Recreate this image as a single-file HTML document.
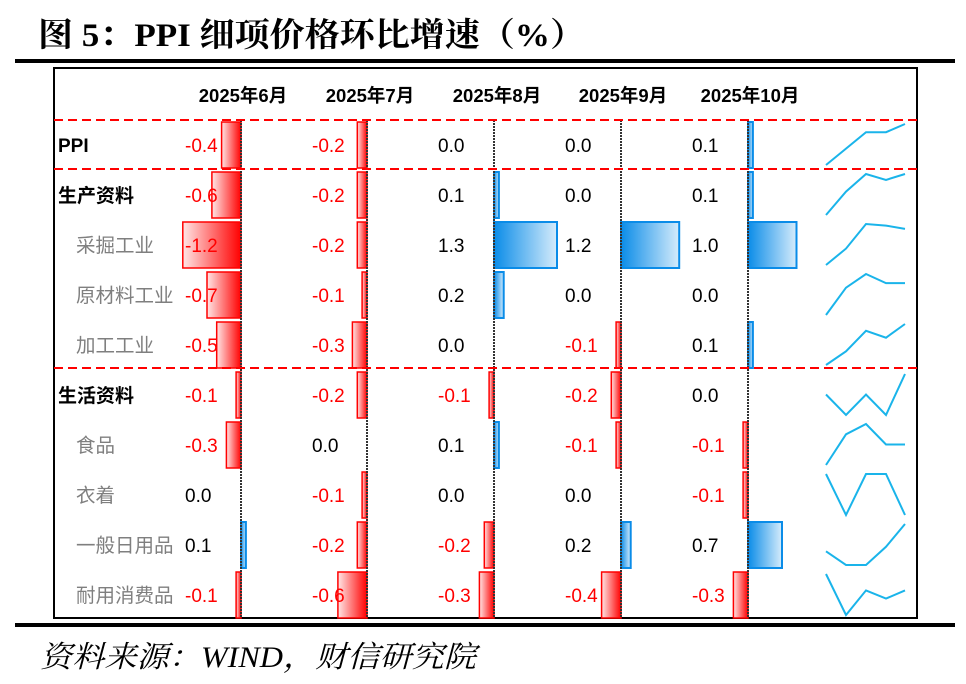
<!DOCTYPE html>
<html><head><meta charset="utf-8"><style>
body{margin:0;background:#fff;width:966px;height:684px;overflow:hidden}
svg{display:block}
.h{font:bold 18.5px "Liberation Sans","Noto Sans CJK SC",sans-serif;fill:#000}
.b{font:bold 19px "Liberation Sans","Noto Sans CJK SC",sans-serif;fill:#000}
.g{font:19.5px "Liberation Sans","Noto Sans CJK SC",sans-serif;fill:#7f7f7f}
.v{font:19px "Liberation Sans","Noto Sans CJK SC",sans-serif;fill:#000}
.n{font:19px "Liberation Sans","Noto Sans CJK SC",sans-serif;fill:#ff0000}
.r{fill:url(#rg);stroke:#ff0000;stroke-width:1.5}
.u{fill:url(#bg);stroke:#0a8ce8;stroke-width:2}
.s{fill:none;stroke:#1ab4ea;stroke-width:2}
</style></head><body>
<svg width="966" height="684" xmlns="http://www.w3.org/2000/svg">
<defs>
<linearGradient id="rg" x1="0" x2="1"><stop offset="0" stop-color="#ffe6e6"/><stop offset="1" stop-color="#ff0000"/></linearGradient>
<linearGradient id="bg" x1="0" x2="1"><stop offset="0" stop-color="#0a8ce8"/><stop offset="1" stop-color="#d6ecfb"/></linearGradient>
</defs>
<text x="38" y="46" textLength="547" lengthAdjust="spacingAndGlyphs" style="font:bold 33px 'Liberation Serif','Noto Serif CJK SC',serif">图 5：PPI 细项价格环比增速（%）</text>
<rect x="15" y="59" width="940" height="4" fill="#000"/>
<rect x="15" y="623" width="940" height="4" fill="#000"/>
<text x="40" y="667" textLength="436" lengthAdjust="spacingAndGlyphs" style="font:italic 30px 'Liberation Serif','Noto Serif CJK SC',serif">资料来源：WIND，财信研究院</text>
<rect x="54" y="68" width="863" height="550" fill="none" stroke="#000" stroke-width="2"/>
<g class="h">
<text x="243" y="102" text-anchor="middle">2025年6月</text>
<text x="370" y="102" text-anchor="middle">2025年7月</text>
<text x="497" y="102" text-anchor="middle">2025年8月</text>
<text x="623" y="102" text-anchor="middle">2025年9月</text>
<text x="750" y="102" text-anchor="middle">2025年10月</text>
</g>
<rect class="r" x="221.6" y="122" width="19.4" height="46"/><rect class="r" x="357.3" y="122" width="9.7" height="46"/><rect class="u" x="748" y="122" width="4.9" height="46"/>
<rect class="r" x="211.9" y="172" width="29.1" height="46"/><rect class="r" x="357.3" y="172" width="9.7" height="46"/><rect class="u" x="494" y="172" width="4.9" height="46"/><rect class="u" x="748" y="172" width="4.9" height="46"/>
<rect class="r" x="182.8" y="222" width="58.2" height="46"/><rect class="r" x="357.3" y="222" width="9.7" height="46"/><rect class="u" x="494" y="222" width="63" height="46"/><rect class="u" x="621" y="222" width="58.2" height="46"/><rect class="u" x="748" y="222" width="48.5" height="46"/>
<rect class="r" x="207" y="272" width="34" height="46"/><rect class="r" x="362.1" y="272" width="4.9" height="46"/><rect class="u" x="494" y="272" width="9.7" height="46"/>
<rect class="r" x="216.7" y="322" width="24.3" height="46"/><rect class="r" x="352.4" y="322" width="14.6" height="46"/><rect class="r" x="616.1" y="322" width="4.9" height="46"/><rect class="u" x="748" y="322" width="4.9" height="46"/>
<rect class="r" x="236.1" y="372" width="4.9" height="46"/><rect class="r" x="357.3" y="372" width="9.7" height="46"/><rect class="r" x="489.1" y="372" width="4.9" height="46"/><rect class="r" x="611.3" y="372" width="9.7" height="46"/>
<rect class="r" x="226.4" y="422" width="14.6" height="46"/><rect class="u" x="494" y="422" width="4.9" height="46"/><rect class="r" x="616.1" y="422" width="4.9" height="46"/><rect class="r" x="743.1" y="422" width="4.9" height="46"/>
<rect class="r" x="362.1" y="472" width="4.9" height="46"/><rect class="r" x="743.1" y="472" width="4.9" height="46"/>
<rect class="u" x="241" y="522" width="4.9" height="46"/><rect class="r" x="357.3" y="522" width="9.7" height="46"/><rect class="r" x="484.3" y="522" width="9.7" height="46"/><rect class="u" x="621" y="522" width="9.7" height="46"/><rect class="u" x="748" y="522" width="34" height="46"/>
<rect class="r" x="236.1" y="572" width="4.9" height="46"/><rect class="r" x="337.9" y="572" width="29.1" height="46"/><rect class="r" x="479.4" y="572" width="14.6" height="46"/><rect class="r" x="601.6" y="572" width="19.4" height="46"/><rect class="r" x="733.4" y="572" width="14.6" height="46"/>
<g stroke="#333" stroke-width="2" stroke-dasharray="2,1">
<line x1="241" y1="120" x2="241" y2="618"/><line x1="367" y1="120" x2="367" y2="618"/><line x1="494" y1="120" x2="494" y2="618"/><line x1="621" y1="120" x2="621" y2="618"/><line x1="748" y1="120" x2="748" y2="618"/>
</g>
<g stroke="#ff0000" stroke-width="2" stroke-dasharray="9,5">
<line x1="54" y1="120" x2="917" y2="120"/><line x1="54" y1="169" x2="917" y2="169"/><line x1="54" y1="368" x2="917" y2="368"/>
</g>
<text class="b" x="58" y="152">PPI</text>
<text class="b" x="58" y="202">生产资料</text>
<text class="g" x="76" y="252">采掘工业</text>
<text class="g" x="76" y="302">原材料工业</text>
<text class="g" x="76" y="352">加工工业</text>
<text class="b" x="58" y="402">生活资料</text>
<text class="g" x="76" y="452">食品</text>
<text class="g" x="76" y="502">衣着</text>
<text class="g" x="76" y="552">一般日用品</text>
<text class="g" x="76" y="602">耐用消费品</text>
<text class="n" x="185" y="152">-0.4</text><text class="n" x="312" y="152">-0.2</text><text class="v" x="438" y="152">0.0</text><text class="v" x="565" y="152">0.0</text><text class="v" x="692" y="152">0.1</text>
<text class="n" x="185" y="202">-0.6</text><text class="n" x="312" y="202">-0.2</text><text class="v" x="438" y="202">0.1</text><text class="v" x="565" y="202">0.0</text><text class="v" x="692" y="202">0.1</text>
<text class="n" x="185" y="252">-1.2</text><text class="n" x="312" y="252">-0.2</text><text class="v" x="438" y="252">1.3</text><text class="v" x="565" y="252">1.2</text><text class="v" x="692" y="252">1.0</text>
<text class="n" x="185" y="302">-0.7</text><text class="n" x="312" y="302">-0.1</text><text class="v" x="438" y="302">0.2</text><text class="v" x="565" y="302">0.0</text><text class="v" x="692" y="302">0.0</text>
<text class="n" x="185" y="352">-0.5</text><text class="n" x="312" y="352">-0.3</text><text class="v" x="438" y="352">0.0</text><text class="n" x="565" y="352">-0.1</text><text class="v" x="692" y="352">0.1</text>
<text class="n" x="185" y="402">-0.1</text><text class="n" x="312" y="402">-0.2</text><text class="n" x="438" y="402">-0.1</text><text class="n" x="565" y="402">-0.2</text><text class="v" x="692" y="402">0.0</text>
<text class="n" x="185" y="452">-0.3</text><text class="v" x="312" y="452">0.0</text><text class="v" x="438" y="452">0.1</text><text class="n" x="565" y="452">-0.1</text><text class="n" x="692" y="452">-0.1</text>
<text class="v" x="185" y="502">0.0</text><text class="n" x="312" y="502">-0.1</text><text class="v" x="438" y="502">0.0</text><text class="v" x="565" y="502">0.0</text><text class="n" x="692" y="502">-0.1</text>
<text class="v" x="185" y="552">0.1</text><text class="n" x="312" y="552">-0.2</text><text class="n" x="438" y="552">-0.2</text><text class="v" x="565" y="552">0.2</text><text class="v" x="692" y="552">0.7</text>
<text class="n" x="185" y="602">-0.1</text><text class="n" x="312" y="602">-0.6</text><text class="n" x="438" y="602">-0.3</text><text class="n" x="565" y="602">-0.4</text><text class="n" x="692" y="602">-0.3</text>
<polyline class="s" points="826,165 846,148.6 866,132.2 886,132.2 905,124"/>
<polyline class="s" points="826,215 846,191.6 866,174 886,179.9 905,174"/>
<polyline class="s" points="826,265 846,248.6 866,224 886,225.6 905,228.9"/>
<polyline class="s" points="826,315 846,287.7 866,274 886,283.1 905,283.1"/>
<polyline class="s" points="826,365 846,351.3 866,330.8 886,337.7 905,324"/>
<polyline class="s" points="826,394.5 846,415 866,394.5 886,415 905,374"/>
<polyline class="s" points="826,465 846,434.3 866,424 886,444.5 905,444.5"/>
<polyline class="s" points="826,474 846,515 866,474 886,474 905,515"/>
<polyline class="s" points="826,551.3 846,565 866,565 886,546.8 905,524"/>
<polyline class="s" points="826,574 846,615 866,590.4 886,598.6 905,590.4"/>
</svg>
</body></html>
